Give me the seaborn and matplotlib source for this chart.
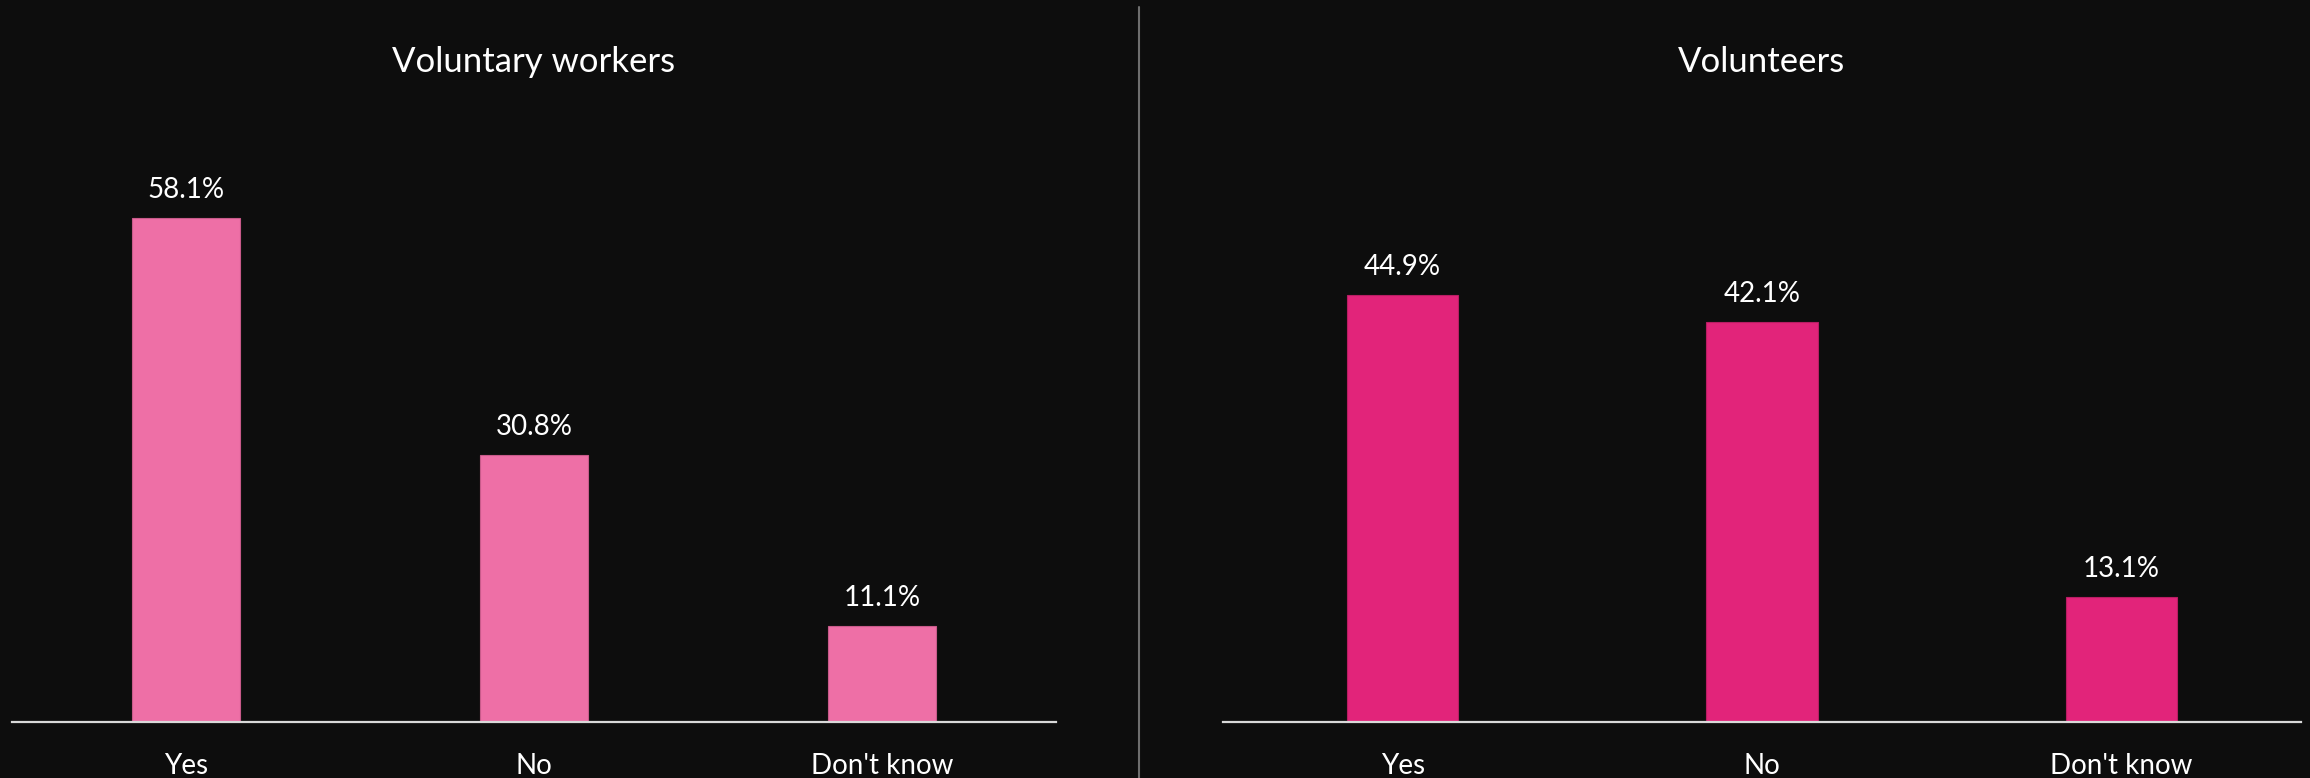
import matplotlib
matplotlib.use("Agg")
import matplotlib.pyplot as plt
import seaborn as sns
import pandas as pd
from matplotlib.lines import Line2D

categories = ["Yes", "No", "Don't know"]
workers_values = [58.1, 30.8, 11.1]
volunteers_values = [44.9, 42.1, 13.1]
titles = ["Voluntary workers", "Volunteers"]

BG = "#0d0d0d"
sns.set_theme(style="dark", rc={
    "figure.facecolor": BG, "axes.facecolor": BG, "savefig.facecolor": BG,
    "axes.grid": False,
})
plt.rcParams["font.family"] = ["Lato", "DejaVu Sans"]

W, H = 2310, 778
fig = plt.figure(figsize=(W / 100, H / 100), dpi=100)

def px_axes(x0, x1, top, bottom):
    return fig.add_axes([x0 / W, 1 - bottom / H, (x1 - x0) / W, (bottom - top) / H])

panels = [
    (workers_values, "#ee6fa6", "#c85a8a", px_axes(12, 1056, 100, 722), 71.7),
    (volunteers_values, "#e2247a", "#b81d63", px_axes(1223, 2301, 100, 722), 65.4),
]

for (vals, col, edge, ax, ytop), title in zip(panels, titles):
    df = pd.DataFrame({"cat": categories, "val": vals})
    sns.barplot(data=df, x="cat", y="val", color=col, saturation=1, width=0.31,
                edgecolor=edge, linewidth=0.8, ax=ax)
    ax.set_xlim(-0.5, 2.5)
    ax.set_ylim(0, ytop)
    ax.set_xlabel("")
    ax.set_ylabel("")
    ax.set_yticks([])
    for s in ["top", "right", "left"]:
        ax.spines[s].set_visible(False)
    ax.spines["bottom"].set_color("#d9d9d9")
    ax.spines["bottom"].set_linewidth(1.6)
    ax.tick_params(axis="x", length=0, pad=22, labelsize=20, labelcolor="white")
    for i, v in enumerate(vals):
        ax.annotate(f"{v:.1f}%", (i, v), xytext=(0, 14.4), textcoords="offset points",
                    ha="center", va="baseline", color="white", fontsize=20)
    pos = ax.get_position()
    fig.text((pos.x0 + pos.x1) / 2, 1 - 72 / H, title,
             ha="center", va="baseline", color="white", fontsize=25)

fig.add_artist(Line2D([1139 / W, 1139 / W], [0, 1 - 7 / H], transform=fig.transFigure,
                      color="#6e6e6e", linewidth=1.5))

fig.savefig("out.png", dpi=100, facecolor=BG)
